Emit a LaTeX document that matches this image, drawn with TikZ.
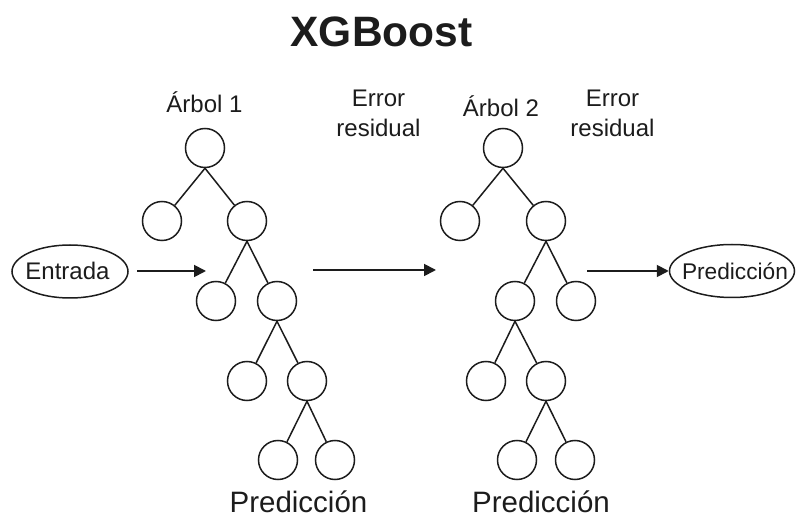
\documentclass[tikz,border=0pt]{standalone}
\usepackage{fontspec}
\setmainfont{Liberation Sans}
\usetikzlibrary{arrows.meta,shapes.geometric}
\definecolor{ink}{HTML}{1C1C1C}
\tikzset{
  tn/.style={circle,draw=ink,line width=1.5pt,minimum size=39pt,inner sep=0pt},
  edge/.style={draw=ink,line width=1.5pt},
  arr/.style={draw=ink,line width=1.8pt,-{Triangle[length=12pt,width=12pt]}},
  oval/.style={ellipse,draw=ink,line width=1.5pt,inner sep=0pt},
  lbl/.style={text=ink,inner sep=0pt,anchor=base,font=\fontsize{24}{30}\selectfont},
}
\begin{document}
\begin{tikzpicture}[x=1pt,y=-1pt]
\useasboundingbox (0,0) rectangle (796,521);
% title
\node[text=ink,inner sep=0pt,anchor=base,font=\fontsize{42.5}{50}\selectfont\bfseries] (title) at (381.5,47) {XGBoost};
% labels
\node[lbl] (a1) at (204.5,113) {Árbol 1};
\node[lbl] (a2) at (501,117) {Árbol 2};
\node[lbl,anchor=center,align=center] (er1) at (378.5,113.5) {Error\\residual};
\node[lbl,anchor=center,align=center] (er2) at (612.5,113.5) {Error\\residual};
% tree 1
\node[tn] (t1a) at (205,148) {};
\node[tn] (t1b) at (162,221) {};
\node[tn] (t1c) at (247,221) {};
\node[tn] (t1d) at (216,301) {};
\node[tn] (t1e) at (277,301) {};
\node[tn] (t1f) at (247,381) {};
\node[tn] (t1g) at (307,381) {};
\node[tn] (t1h) at (278,460) {};
\node[tn] (t1i) at (335,460) {};
\draw[edge] (t1a.south) -- (t1b);
\draw[edge] (t1a.south) -- (t1c);
\draw[edge] (t1c.south) -- (t1d);
\draw[edge] (t1c.south) -- (t1e);
\draw[edge] (t1e.south) -- (t1f);
\draw[edge] (t1e.south) -- (t1g);
\draw[edge] (t1g.south) -- (t1h);
\draw[edge] (t1g.south) -- (t1i);
% tree 2
\node[tn] (t2a) at (503,148) {};
\node[tn] (t2b) at (460,221) {};
\node[tn] (t2c) at (546,221) {};
\node[tn] (t2d) at (515,301) {};
\node[tn] (t2e) at (576,301) {};
\node[tn] (t2f) at (486,381) {};
\node[tn] (t2g) at (546,381) {};
\node[tn] (t2h) at (517,460) {};
\node[tn] (t2i) at (575,460) {};
\draw[edge] (t2a.south) -- (t2b);
\draw[edge] (t2a.south) -- (t2c);
\draw[edge] (t2c.south) -- (t2d);
\draw[edge] (t2c.south) -- (t2e);
\draw[edge] (t2d.south) -- (t2f);
\draw[edge] (t2d.south) -- (t2g);
\draw[edge] (t2g.south) -- (t2h);
\draw[edge] (t2g.south) -- (t2i);
% bottom labels
\node[lbl,font=\fontsize{29.5}{34}\selectfont] (p1) at (298.5,512) {Predicción};
\node[lbl,font=\fontsize{29.5}{34}\selectfont] (p2) at (541,512) {Predicción};
% input / output ovals
\node[oval,minimum width=116pt,minimum height=53pt] (in) at (70,271.5) {};
\node[lbl] (intext) at (67.5,280) {Entrada};
\node[oval,minimum width=125pt,minimum height=53pt] (out) at (732,271) {};
\node[lbl,font=\fontsize{22.7}{28}\selectfont] (outtext) at (735,280) {Predicción};
% arrows
\coordinate (e1) at (137,271);
\coordinate (e2) at (206,271);
\coordinate (m1) at (313,270);
\coordinate (m2) at (436,270);
\coordinate (r1) at (587,271);
\draw[arr] (e1) -- (e2);
\draw[arr] (m1) -- (m2);
\draw[arr] (r1) -- (out.west);
\end{tikzpicture}
\end{document}
